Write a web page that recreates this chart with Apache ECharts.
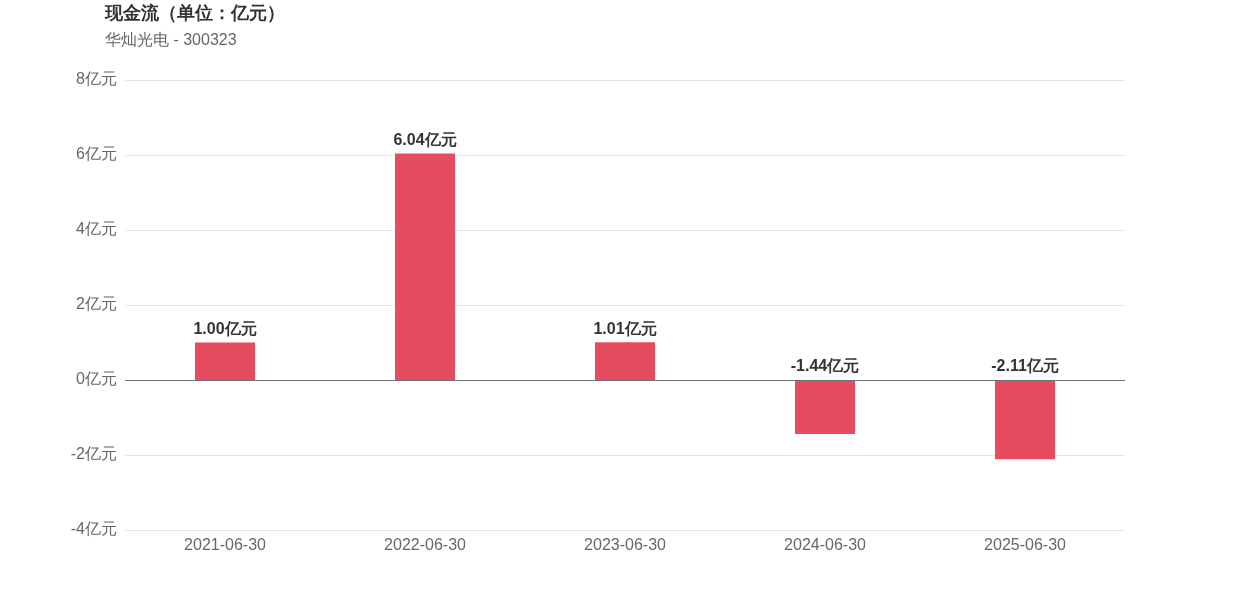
<!DOCTYPE html>
<html><head><meta charset="utf-8">
<script src="https://cdn.jsdelivr.net/npm/echarts@6/dist/echarts.min.js"></script>
<style>html,body{margin:0;padding:0;background:#fff}#c{width:1250px;height:600px}</style>
</head><body><div id="c"></div>
<script>
const categories = ['2021-06-30','2022-06-30','2023-06-30','2024-06-30','2025-06-30'];
const values = [1.00, 6.04, 1.01, -1.44, -2.11];
const titleText = '现金流（单位：亿元）';
const subText = '华灿光电 - 300323';
const chart = echarts.init(document.getElementById('c'));
chart.setOption({
  animation: false,
  title: {
    text: titleText, subtext: subText, left: 100, top: 0,
    itemGap: 10,
    textStyle: {fontSize: 18, fontWeight: 'bold', color: '#333'},
    subtextStyle: {fontSize: 16, color: '#666'}
  },
  grid: {left: 125, right: 125, top: 80, bottom: 70, containLabel: false},
  xAxis: {
    type: 'category', data: categories,
    axisTick: {show: false},
    axisLine: {show: false, onZero: false},
    axisLabel: {fontSize: 16, color: '#666', margin: 8}
  },
  yAxis: {
    type: 'value', min: -4, max: 8, interval: 2,
    axisLabel: {fontSize: 16, color: '#666', formatter: v => v + '亿元', margin: 8},
    splitLine: {lineStyle: {color: '#e0e6f1'}}
  },
  series: [{
    type: 'bar', data: values, barWidth: 60,
    itemStyle: {color: '#e64c5f'},
    label: {show: true, position: 'top', fontSize: 16, fontWeight: 'bold', color: '#333',
      formatter: p => p.value.toFixed(2) + '亿元'},
    markLine: {
      silent: true, symbol: 'none', label: {show: false},
      lineStyle: {color: '#6e7079', type: 'solid', width: 1},
      data: [{yAxis: 0}]
    }
  }]
});
</script></body></html>
